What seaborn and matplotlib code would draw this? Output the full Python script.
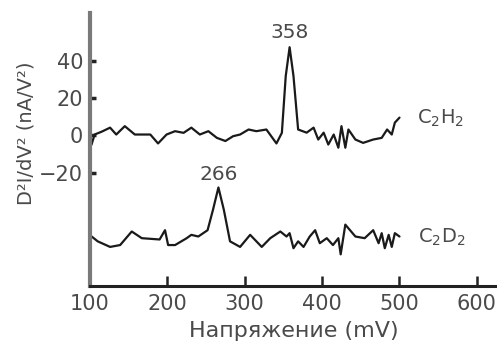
import matplotlib
matplotlib.use("Agg")
import matplotlib.pyplot as plt
import seaborn as sns
import pandas as pd

# C2H2 trace (mV, signal)
c2h2_x = [102, 106, 115, 126, 134, 145, 158, 178, 188, 199, 210, 221, 231, 242,
          253, 264, 275, 285, 294, 305, 315, 328, 341, 348, 353, 358, 363, 369,
          380, 389, 395, 402, 408, 415, 421, 425, 430, 434, 443, 453, 466, 477,
          484, 490, 494, 500]
c2h2_y = [-5, 0.5, 2, 4.2, 0.5, 5, 0.5, 0.5, -4.3, 0.5, 2.3, 1.4, 4.2, 0.5,
          2.3, -1.3, -3, -0.4, 0.5, 3.2, 2.3, 3.2, -4.3, 1.4, 32, 47.5, 32, 3.2,
          1.5, 4.2, -2.2, 1.5, -4.9, 0.5, -6.6, 5, -6.6, 3.2, -2.2, -4, -2.2, -1.3,
          3.2, 0.5, 6.9, 9.6]

# C2D2 trace
c2d2_x = [101, 110, 126, 139, 154, 167, 190, 197, 201, 210, 225, 231, 240, 252,
          259, 266, 273, 281, 294, 307, 322, 333, 346, 354, 358, 363, 369, 376,
          384, 391, 397, 406, 414, 421, 424, 430, 443, 455, 466, 473, 477, 481,
          486, 490, 494, 500]
c2d2_y = [-54, -57, -60, -59, -51.7, -55.3, -56, -51, -59, -59, -55.3, -53.5, -54.4, -51,
          -40, -28, -40, -57, -60, -53.5, -60, -55.3, -51.7, -54.4, -52.6, -60.7, -57, -60,
          -54.4, -51, -58, -55.3, -59, -55.3, -64, -48, -54.4, -55.3, -51, -58, -52.6, -60.7,
          -53.5, -60, -52.6, -54.4]

peaks = ["358", "266"]
peak_pos = [(358, 55.5), (266, -21)]
names = ["C$_2$H$_2$", "C$_2$D$_2$"]
name_pos = [(523, 9), (524, -55)]

xticks = [100, 200, 300, 400, 500, 600]
yticks = [-20, 0, 20, 40]

df = pd.concat([
    pd.DataFrame({"x": c2h2_x, "y": c2h2_y, "s": "C2H2"}),
    pd.DataFrame({"x": c2d2_x, "y": c2d2_y, "s": "C2D2"}),
])

sns.set_style("ticks")
plt.rcParams["font.family"] = ["DejaVu Sans"]
txt = "#4a4a4a"

fig = plt.figure(figsize=(4.97, 3.47), dpi=100)
ax = fig.add_axes([0.181, 0.176, 0.819, 0.787])

sns.lineplot(data=df, x="x", y="y", units="s", estimator=None, sort=False,
             color="#1a1a1a", lw=1.6, ax=ax, legend=False)

for t, (px, py) in zip(peaks, peak_pos):
    ax.text(px, py, t, ha="center", va="center", fontsize=14.5, color=txt)
for t, (px, py) in zip(names, name_pos):
    ax.text(px, py, t, ha="left", va="center", fontsize=14, color=txt)

ax.set_xlim(100, 626)
ax.set_ylim(-81, 66)
ax.set_xticks(xticks)
ax.set_yticks(yticks)
ax.set_yticklabels(["\u221220", "0", "20", "40"])
ax.tick_params(axis="both", direction="in", labelsize=15, labelcolor=txt,
               color="#222222", bottom=True, left=True)
ax.tick_params(axis="x", length=7, width=1.8, pad=6)
ax.tick_params(axis="y", length=4, width=2.5, pad=5)

ax.set_xlabel("Напряжение (mV)", fontsize=16, color=txt, labelpad=5)
ax.set_ylabel("D\u00b2I/dV\u00b2 (nA/V\u00b2)", fontsize=14, color=txt)
ax.yaxis.set_label_coords(-0.135, 0.56)

sns.despine(ax=ax)
ax.spines["left"].set_color("#7a7a7a")
ax.spines["left"].set_linewidth(3)
ax.spines["bottom"].set_color("#222222")
ax.spines["bottom"].set_linewidth(2.2)

fig.savefig("out.png", dpi=100)
